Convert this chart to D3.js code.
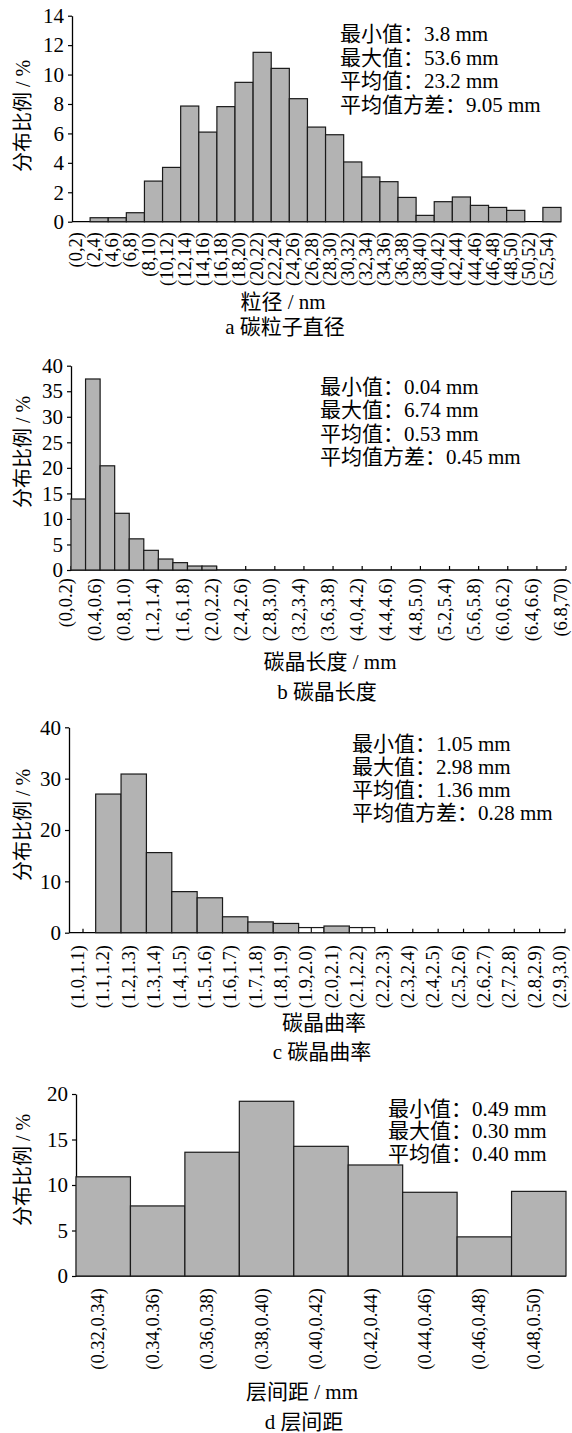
<!DOCTYPE html>
<html>
  <head>
    <meta charset="utf-8" />
    <script src="https://d3js.org/d3.v7.min.js"></script>
  </head>
  <body>
    <svg id="viz" width="572" height="1433"></svg>
  </body>
  <script>
    // a 碳粒子直径
    const sizeBins = ["(0,2)", "(2,4)", "(4,6)", "(6,8)", "(8,10)", "(10,12)", "(12,14)", "(14,16)", "(16,18)",
      "(18,20)", "(20,22)", "(22,24)", "(24,26)", "(26,28)", "(28,30)", "(30,32)", "(32,34)", "(34,36)",
      "(36,38)", "(38,40)", "(40,42)", "(42,44)", "(44,46)", "(46,48)", "(48,50)", "(50,52)", "(52,54)"];
    const sizeValues = [0, 0.27, 0.27, 0.61, 2.76, 3.69, 7.86, 6.09, 7.82, 9.47, 11.51, 10.42, 8.36, 6.43,
      5.91, 4.06, 3.04, 2.72, 1.65, 0.43, 1.36, 1.68, 1.11, 0.97, 0.77, 0, 0.97];
    const sizeStats = ["最小值：3.8 mm", "最大值：53.6 mm", "平均值：23.2 mm", "平均值方差：9.05 mm"];

    // b 碳晶长度
    const lengthBinStarts = [0, 0.2, 0.4, 0.6, 0.8, 1.0, 1.2, 1.4, 1.6, 1.8];
    const lengthValues = [13.9, 37.4, 20.4, 11.1, 6.1, 3.85, 2.15, 1.44, 0.78, 0.78];
    const lengthTicks = [0, 0.4, 0.8, 1.2, 1.6, 2.0, 2.4, 2.8, 3.2, 3.6, 4.0, 4.4, 4.8, 5.2, 5.6, 6.0, 6.4, 6.8];
    const lengthTickLabels = ["(0,0.2)", "(0.4,0.6)", "(0.8,1.0)", "(1.2,1.4)", "(1.6,1.8)", "(2.0,2.2)",
      "(2.4,2.6)", "(2.8,3.0)", "(3.2,3.4)", "(3.6,3.8)", "(4.0,4.2)", "(4.4,4.6)", "(4.8,5.0)", "(5.2,5.4)",
      "(5.6,5.8)", "(6.0,6.2)", "(6.4,6.6)", "(6.8,70)"];
    const lengthStats = ["最小值：0.04 mm", "最大值：6.74 mm", "平均值：0.53 mm", "平均值方差：0.45 mm"];

    // c 碳晶曲率
    const curvBins = ["(1.0,1.1)", "(1.1,1.2)", "(1.2,1.3)", "(1.3,1.4)", "(1.4,1.5)", "(1.5,1.6)", "(1.6,1.7)",
      "(1.7,1.8)", "(1.8,1.9)", "(1.9,2.0)", "(2.0,2.1)", "(2.1,2.2)", "(2.2,2.3)", "(2.3,2.4)", "(2.4,2.5)",
      "(2.5,2.6)", "(2.6,2.7)", "(2.7,2.8)", "(2.8,2.9)", "(2.9,3.0)"];
    const curvValues = [0, 27.0, 30.9, 15.6, 8.0, 6.8, 3.1, 2.1, 1.8, 1.0, 1.3, 1.0, 0, 0, 0, 0, 0, 0, 0, 0];
    const curvHollow = ["(1.9,2.0)", "(2.1,2.2)"];
    const curvStats = ["最小值：1.05 mm", "最大值：2.98 mm", "平均值：1.36 mm", "平均值方差：0.28 mm"];

    // d 层间距
    const spacingBins = ["(0.32,0.34)", "(0.34,0.36)", "(0.36,0.38)", "(0.38,0.40)", "(0.40,0.42)",
      "(0.42,0.44)", "(0.44,0.46)", "(0.46,0.48)", "(0.48,0.50)"];
    const spacingValues = [10.9, 7.7, 13.6, 19.2, 14.25, 12.2, 9.2, 4.3, 9.3];
    const spacingStats = ["最小值：0.49 mm", "最大值：0.30 mm", "平均值：0.40 mm"];

    const FONT = "'Liberation Serif', 'Times New Roman', 'Noto Sans CJK SC', serif";
    const FILL = "#b3b3b3";
    const svg = d3.select("svg#viz");

    function yAxisStuff(p) {
      const y = d3.scaleLinear().domain([0, p.yMax]).range([p.y0, p.y1]);
      const ax = svg.append("g")
        .attr("transform", `translate(${p.x0},0)`)
        .call(d3.axisLeft(y).tickValues(d3.range(0, p.yMax + 0.01, p.yStep)).tickSize(4).tickSizeOuter(0).tickPadding(4));
      ax.select(".domain").attr("stroke", "#000").attr("stroke-width", 1.3);
      ax.selectAll(".tick line").attr("stroke", "#000").attr("stroke-width", 1.2);
      ax.selectAll(".tick text").attr("font-family", FONT).attr("font-size", 21).attr("fill", "#000");
      svg.append("text")
        .attr("transform", `translate(${23},${p.titleY}) rotate(-90)`)
        .attr("text-anchor", "middle").attr("dy", "0.35em")
        .attr("font-family", FONT).attr("font-size", 20)
        .text("分布比例 / %");
      return y;
    }

    function xLine(p) {
      svg.append("line")
        .attr("x1", p.x0).attr("x2", p.x1).attr("y1", p.y0).attr("y2", p.y0)
        .attr("stroke", "#000").attr("stroke-width", 1.3);
    }

    // rotated tick labels sit a few pixels left of their tick in the original
    function xLabels(items, top) {
      svg.append("g").selectAll("text").data(items).join("text")
        .attr("transform", (d) => `translate(${d.x - 5},${top}) rotate(-90)`)
        .attr("text-anchor", "end").attr("dy", "0.33em")
        .attr("font-family", FONT).attr("font-size", 18.5)
        .text((d) => d.label);
    }

    function statsText(lines, x, y, step) {
      svg.append("g").selectAll("text").data(lines).join("text")
        .attr("x", x).attr("y", (d, i) => y + i * step)
        .attr("font-family", FONT).attr("font-size", 21)
        .text((d) => d);
    }

    function titles(p) {
      svg.append("text").attr("x", p.titleX).attr("y", p.xTitleY)
        .attr("text-anchor", "middle").attr("font-family", FONT).attr("font-size", 21)
        .text(p.xTitle);
      svg.append("text").attr("x", p.capX).attr("y", p.capY)
        .attr("text-anchor", "middle").attr("font-family", FONT).attr("font-size", 21)
        .text(p.caption);
    }

    function bars(data, xFn, wFn, y, y0) {
      svg.append("g").selectAll("rect").data(data.filter((d) => d.v > 0)).join("rect")
        .attr("x", xFn).attr("width", wFn)
        .attr("y", (d) => y(d.v)).attr("height", (d) => y0 - y(d.v))
        .attr("fill", (d) => (d.hollow ? "#fff" : FILL))
        .attr("stroke", "#1a1a1a").attr("stroke-width", 1.2);
    }

    // ---- panel a
    {
      const p = { x0: 72, x1: 561, y0: 221.7, y1: 15.7, yMax: 14, yStep: 2, titleY: 116,
        titleX: 283, xTitleY: 309, xTitle: "粒径 / nm", capX: 285, capY: 334, caption: "a  碳粒子直径" };
      const y = yAxisStuff(p);
      const x = d3.scaleBand().domain(sizeBins).range([p.x0, p.x1]);
      xLine(p);
      const data = sizeBins.map((b, i) => ({ b, v: sizeValues[i] }));
      bars(data, (d) => x(d.b), x.bandwidth(), y, p.y0);
      xLabels(sizeBins.map((b) => ({ label: b, x: x(b) + x.bandwidth() / 2 })), 232);
      statsText(sizeStats, 340, 41, 23.5);
      titles(p);
    }

    // ---- panel b
    {
      const p = { x0: 71, x1: 566, y0: 570, y1: 365.7, yMax: 40, yStep: 5, titleY: 452,
        titleX: 330, xTitleY: 669, xTitle: "碳晶长度 / mm", capX: 327, capY: 699, caption: "b  碳晶长度" };
      const y = yAxisStuff(p);
      const x = d3.scaleLinear().domain([0, 6.8]).range([p.x0, p.x1]);
      svg.append("g").selectAll("line").data(lengthTicks).join("line")
        .attr("x1", (d) => x(d)).attr("x2", (d) => x(d)).attr("y1", p.y0).attr("y2", p.y0 - 4)
        .attr("stroke", "#000").attr("stroke-width", 1.2);
      xLine(p);
      const data = lengthBinStarts.map((s, i) => ({ s, v: lengthValues[i] }));
      bars(data, (d) => x(d.s), (d) => x(d.s + 0.2) - x(d.s), y, p.y0);
      xLabels(lengthTicks.map((t, i) => ({ label: lengthTickLabels[i], x: x(t) })), 578);
      statsText(lengthStats, 320, 394, 23.3);
      titles(p);
    }

    // ---- panel c
    {
      const p = { x0: 69, x1: 565, y0: 932.7, y1: 727.3, yMax: 40, yStep: 10, titleY: 825,
        titleX: 324, xTitleY: 1030, xTitle: "碳晶曲率", capX: 322, capY: 1059, caption: "c  碳晶曲率" };
      const y = yAxisStuff(p);
      const x = d3.scalePoint().domain(curvBins).range([83, p.x1]);
      const w = x.step();
      svg.append("g").selectAll("line").data(curvBins).join("line")
        .attr("x1", (d) => x(d)).attr("x2", (d) => x(d)).attr("y1", p.y0).attr("y2", p.y0 - 4)
        .attr("stroke", "#000").attr("stroke-width", 1.2);
      xLine(p);
      const data = curvBins.map((b, i) => ({ b, v: curvValues[i], hollow: curvHollow.includes(b) }));
      bars(data, (d) => x(d.b) - w / 2, w, y, p.y0);
      svg.append("g").selectAll("line").data(data.filter((d) => d.hollow)).join("line")
        .attr("x1", (d) => x(d.b)).attr("x2", (d) => x(d.b))
        .attr("y1", (d) => y(d.v)).attr("y2", p.y0)
        .attr("stroke", "#1a1a1a").attr("stroke-width", 1.2);
      xLabels(curvBins.map((b) => ({ label: b, x: x(b) })), 945);
      statsText(curvStats, 352, 751, 23);
      titles(p);
    }

    // ---- panel d
    {
      const p = { x0: 76, x1: 566, y0: 1276, y1: 1094, yMax: 20, yStep: 5, titleY: 1170,
        titleX: 302, xTitleY: 1399, xTitle: "层间距 / mm", capX: 304, capY: 1429, caption: "d  层间距" };
      const y = yAxisStuff(p);
      const x = d3.scaleBand().domain(spacingBins).range([p.x0, p.x1]);
      xLine(p);
      const data = spacingBins.map((b, i) => ({ b, v: spacingValues[i] }));
      bars(data, (d) => x(d.b), x.bandwidth(), y, p.y0);
      xLabels(spacingBins.map((b) => ({ label: b, x: x(b) + x.bandwidth() / 2 })), 1288);
      statsText(spacingStats, 388, 1116, 22.3);
      titles(p);
    }
  </script>
  <style>
    body {
      margin: 0px;
      background: #fff;
    }
  </style>
</html>
